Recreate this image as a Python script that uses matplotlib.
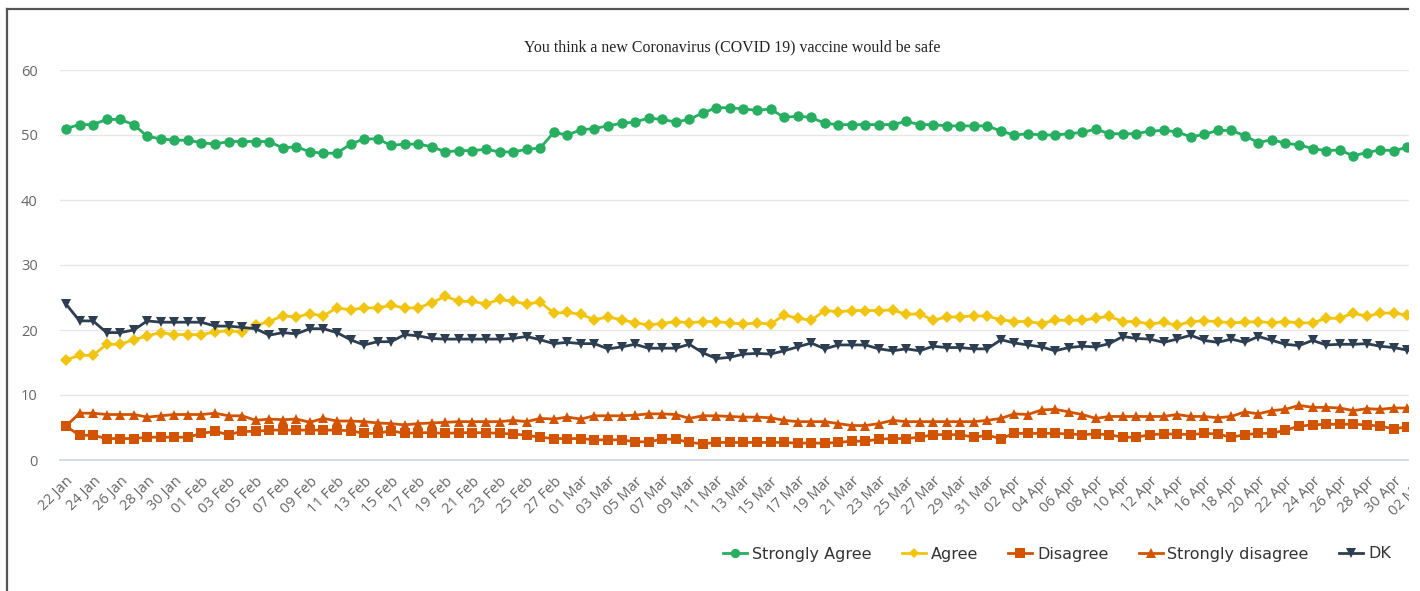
import matplotlib.pyplot as plt
import pandas as pd
from matplotlib.patches import Rectangle
from matplotlib.lines import Line2D

title = 'You think a new Coronavirus (COVID 19) vaccine would be safe'

dates = pd.date_range('2021-01-22', '2021-05-02')
labels = [d.strftime('%d %b') for d in dates]

strongly_agree = [51.0, 51.6, 51.6, 52.4, 52.4, 51.6, 49.8, 49.4, 49.2, 49.2,
                  48.8, 48.6, 49.0, 49.0, 49.0, 49.0, 48.0, 48.2, 47.4, 47.2,
                  47.2, 48.6, 49.4, 49.4, 48.4, 48.6, 48.6, 48.2, 47.4, 47.6,
                  47.6, 47.8, 47.4, 47.4, 47.8, 48.0, 50.4, 50.0, 50.8, 51.0,
                  51.4, 51.8, 52.0, 52.6, 52.4, 52.0, 52.4, 53.4, 54.2, 54.2,
                  54.0, 53.8, 54.0, 52.7, 52.9, 52.7, 51.8, 51.6, 51.6, 51.6,
                  51.6, 51.6, 52.1, 51.6, 51.6, 51.4, 51.4, 51.4, 51.4, 50.6,
                  50.0, 50.2, 50.0, 50.0, 50.2, 50.4, 50.9, 50.2, 50.2, 50.2,
                  50.6, 50.7, 50.5, 49.7, 50.1, 50.7, 50.7, 49.9, 48.8, 49.3,
                  48.7, 48.5, 47.9, 47.6, 47.7, 46.8, 47.3, 47.7, 47.6, 48.1, 48.0]

agree = [15.4, 16.1, 16.1, 17.8, 17.8, 18.5, 19.1, 19.6, 19.3, 19.3,
         19.3, 19.7, 19.9, 19.7, 20.7, 21.3, 22.2, 22.0, 22.5, 22.2,
         23.4, 23.1, 23.4, 23.4, 23.8, 23.4, 23.4, 24.2, 25.2, 24.4,
         24.4, 24.0, 24.7, 24.4, 24.0, 24.3, 22.6, 22.7, 22.4, 21.6,
         22.0, 21.6, 21.1, 20.8, 21.0, 21.3, 21.1, 21.3, 21.3, 21.1,
         20.9, 21.1, 20.9, 22.3, 21.8, 21.5, 23.0, 22.8, 23.0, 23.0,
         23.0, 23.1, 22.4, 22.5, 21.5, 22.0, 22.0, 22.2, 22.1, 21.6,
         21.3, 21.3, 21.0, 21.5, 21.5, 21.5, 21.8, 22.1, 21.3, 21.3,
         20.9, 21.2, 20.7, 21.3, 21.4, 21.3, 21.1, 21.2, 21.3, 21.1,
         21.3, 21.1, 21.1, 21.8, 21.8, 22.6, 22.1, 22.6, 22.6, 22.3, 22.4]

disagree = [5.2, 3.8, 3.8, 3.3, 3.3, 3.3, 3.5, 3.5, 3.5, 3.5,
            4.1, 4.4, 3.9, 4.4, 4.4, 4.6, 4.6, 4.6, 4.6, 4.6,
            4.6, 4.5, 4.1, 4.1, 4.5, 4.1, 4.2, 4.2, 4.1, 4.2,
            4.2, 4.2, 4.1, 4.0, 3.8, 3.5, 3.3, 3.3, 3.3, 3.1,
            3.1, 3.1, 2.8, 2.8, 3.2, 3.2, 2.7, 2.5, 2.7, 2.7,
            2.7, 2.7, 2.7, 2.7, 2.6, 2.6, 2.6, 2.7, 2.9, 2.9,
            3.2, 3.3, 3.3, 3.5, 3.9, 3.9, 3.9, 3.5, 3.8, 3.3,
            4.1, 4.1, 4.1, 4.1, 4.0, 3.9, 4.0, 3.9, 3.5, 3.5,
            3.9, 4.0, 4.0, 3.9, 4.1, 4.0, 3.5, 3.9, 4.1, 4.1,
            4.6, 5.2, 5.4, 5.5, 5.5, 5.5, 5.4, 5.2, 4.8, 5.1, 5.0]

strongly_disagree = [5.2, 7.2, 7.2, 7.0, 7.0, 7.0, 6.6, 6.8, 7.0, 7.0,
                     7.0, 7.2, 6.8, 6.8, 6.1, 6.3, 6.2, 6.3, 5.8, 6.4,
                     6.0, 6.0, 5.9, 5.7, 5.6, 5.4, 5.6, 5.7, 5.8, 5.9,
                     5.9, 5.9, 5.9, 6.1, 5.9, 6.4, 6.3, 6.6, 6.3, 6.8,
                     6.8, 6.8, 6.9, 7.1, 7.1, 7.0, 6.4, 6.8, 6.8, 6.7,
                     6.6, 6.6, 6.5, 6.1, 5.9, 5.9, 5.9, 5.6, 5.3, 5.3,
                     5.6, 6.1, 5.9, 5.9, 5.9, 5.9, 5.9, 5.9, 6.1, 6.4,
                     7.1, 7.0, 7.7, 7.8, 7.4, 7.0, 6.4, 6.7, 6.7, 6.7,
                     6.7, 6.7, 7.0, 6.7, 6.7, 6.5, 6.7, 7.4, 7.1, 7.6,
                     7.8, 8.4, 8.1, 8.1, 8.0, 7.6, 7.9, 7.8, 8.0, 8.0, 8.0]

dk = [24.0, 21.4, 21.4, 19.6, 19.6, 20.0, 21.4, 21.2, 21.2, 21.2,
      21.2, 20.6, 20.6, 20.4, 20.2, 19.2, 19.6, 19.4, 20.2, 20.2,
      19.6, 18.5, 17.7, 18.2, 18.2, 19.3, 19.1, 18.7, 18.6, 18.6,
      18.6, 18.6, 18.6, 18.7, 19.0, 18.5, 17.9, 18.1, 17.9, 17.9,
      17.1, 17.4, 17.8, 17.2, 17.2, 17.2, 17.8, 16.5, 15.6, 15.8,
      16.3, 16.4, 16.3, 16.8, 17.4, 18.0, 17.1, 17.7, 17.7, 17.7,
      17.1, 16.8, 17.1, 16.8, 17.5, 17.3, 17.3, 17.1, 17.1, 18.5,
      18.0, 17.7, 17.4, 16.8, 17.3, 17.5, 17.4, 17.9, 19.0, 18.7,
      18.6, 18.1, 18.6, 19.2, 18.4, 18.1, 18.6, 18.1, 19.0, 18.4,
      17.8, 17.6, 18.4, 17.7, 17.8, 17.8, 17.9, 17.5, 17.3, 16.9, 17.0]

series = [
    ('Strongly Agree', strongly_agree, '#27ae60', 'o', 7.5),
    ('Agree', agree, '#f1c40f', 'D', 6.0),
    ('Disagree', disagree, '#d35400', 's', 7.5),
    ('Strongly disagree', strongly_disagree, '#d35400', '^', 7.5),
    ('DK', dk, '#2c3e50', 'v', 7.5),
]

W, H = 1420, 591
fig = plt.figure(figsize=(W / 100, H / 100), dpi=100)
plt.rcParams['font.family'] = ['Open Sans', 'DejaVu Sans']

# plot area in pixels: left 60, top 70 (=60), bottom 460 (=0), 13.55 px per day
step = 13.55
x0, x1 = -0.44, 100.6
left = 60
ax = fig.add_axes([left / W, (H - 460) / H, (x1 - x0) * step / W, 390 / H])

x = list(range(len(labels)))
for name, vals, color, marker, ms in series:
    ax.plot(x, vals, color=color, lw=2, marker=marker, markersize=ms,
            markeredgewidth=0, label=name)

ax.set_xlim(x0, x1)
ax.set_ylim(0, 60)
ax.set_yticks([0, 10, 20, 30, 40, 50, 60])
ax.grid(axis='y', color='#e6e6e6', lw=1)
ax.set_axisbelow(True)
for s in ['top', 'right', 'left']:
    ax.spines[s].set_visible(False)
ax.spines['bottom'].set_color('#ccd6eb')
ax.spines['bottom'].set_linewidth(1.2)

ax.set_xticks(x[::2])
ax.set_xticklabels(labels[::2], rotation=45, ha='right', va='top',
                   rotation_mode='anchor')
ax.tick_params(axis='x', length=0, pad=10, labelsize=10.5, labelcolor='#666666')
ax.tick_params(axis='y', length=0, pad=16, labelsize=10.5, labelcolor='#666666')

fig.text(732 / W, 1 - 47 / H, title, ha='center', va='center',
         fontsize=11.4, family='Liberation Serif', color='#222222')

fig.legend(loc='center', bbox_to_anchor=(1057 / W, 1 - 554 / H), ncol=5,
           frameon=False, handlelength=1.5, columnspacing=1.9,
           handletextpad=0.3, labelcolor='#333333', markerscale=0.9,
           prop={'family': 'DejaVu Sans', 'size': 11.5})

# outer frame (left and top edges) and the cropped right margin
fig.add_artist(Line2D([7 / W, 7 / W], [0, 1 - 9 / H], transform=fig.transFigure,
                      color='#555555', lw=1.6))
fig.add_artist(Line2D([7 / W, 1408 / W], [1 - 9 / H, 1 - 9 / H],
                      transform=fig.transFigure, color='#555555', lw=1.6))
fig.add_artist(Rectangle((1409 / W, 0), 1, 1, transform=fig.transFigure,
                         facecolor='white', edgecolor='none', zorder=50))

fig.savefig('out.png', dpi=100)
